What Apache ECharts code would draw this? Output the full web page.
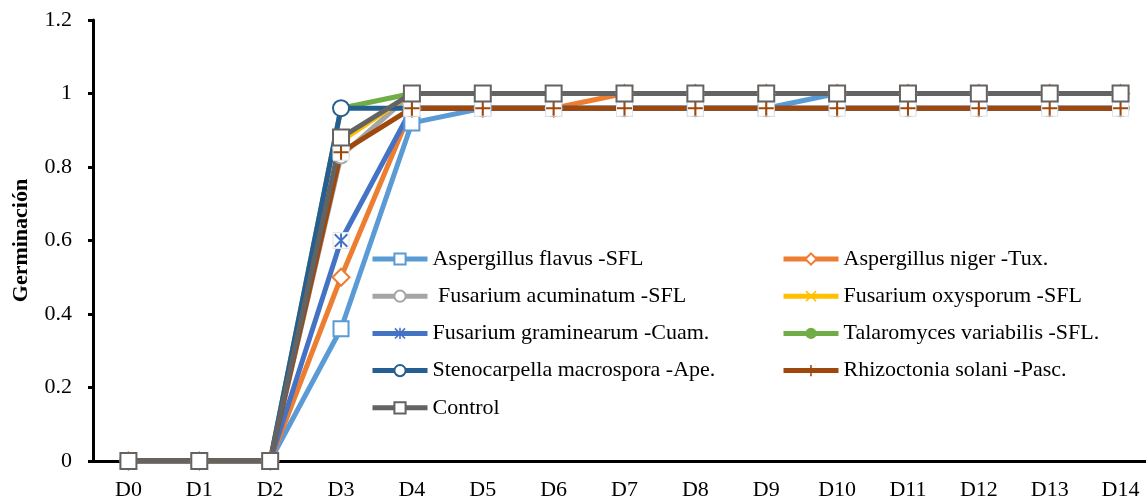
<!DOCTYPE html>
<html>
<head>
<meta charset="utf-8">
<script src="https://cdn.jsdelivr.net/npm/echarts@6/dist/echarts.min.js"></script>
<style>html,body{margin:0;padding:0;background:#fff;}#c{width:1146px;height:502px;}</style>
</head>
<body>
<div id="c"></div>
<script>
const categories = ['D0','D1','D2','D3','D4','D5','D6','D7','D8','D9','D10','D11','D12','D13','D14'];
const aspergillusFlavus   = [0,0,0,0.36,0.92,0.96,0.96,0.96,0.96,0.96,1,1,1,1,1];
const aspergillusNiger    = [0,0,0,0.50,0.96,0.96,0.96,1,1,1,1,1,1,1,1];
const fusariumAcuminatum  = [0,0,0,0.83,1,1,1,1,1,1,1,1,1,1,1];
const fusariumOxysporum   = [0,0,0,0.87,1,1,1,1,1,1,1,1,1,1,1];
const fusariumGraminearum = [0,0,0,0.60,0.96,0.96,0.96,0.96,0.96,0.96,0.96,0.96,0.96,0.96,0.96];
const talaromyces         = [0,0,0,0.96,1,1,1,1,1,1,1,1,1,1,1];
const stenocarpella       = [0,0,0,0.96,0.96,0.96,0.96,0.96,0.96,0.96,0.96,0.96,0.96,0.96,0.96];
const rhizoctonia         = [0,0,0,0.84,0.96,0.96,0.96,0.96,0.96,0.96,0.96,0.96,0.96,0.96,0.96];
const control             = [0,0,0,0.88,1,1,1,1,1,1,1,1,1,1,1];
const yTicks = [0,0.2,0.4,0.6,0.8,1,1.2];

const PLUS = 'path://M0,4.3H10V5.7H0Z M4.3,0H5.7V10H4.3Z';
const CROSS = 'path://M0,1L1,0L10,9L9,10Z M9,0L10,1L1,10L0,9Z';
const STAR = 'path://M0,1L1,0L10,9L9,10Z M9,0L10,1L1,10L0,9Z M4.3,0H5.7V10H4.3Z';

const font = '"Liberation Serif","Times New Roman",serif';

function mk(name, data, color, symbol, size, filled) {
  return {
    name: name, type: 'line', data: data,
    symbol: symbol, symbolSize: size, showAllSymbol: true,
    lineStyle: {color: color, width: 5},
    itemStyle: filled ? {color: color, borderWidth: 0} : {color: color, borderColor: color, borderWidth: 2},
    emphasis: {disabled: true},
    animation: false
  };
}
// white square box drawn behind glyph markers (x, *, +), as in the original
function box(name, data) {
  return {
    name: name + ' box', type: 'line', data: data,
    symbol: 'rect', symbolSize: 16, showAllSymbol: true,
    lineStyle: {width: 0, opacity: 0},
    itemStyle: {color: '#fff', borderColor: '#e4e4e4', borderWidth: 1},
    emphasis: {disabled: true}, silent: true, animation: false
  };
}

const series = [
  mk('Aspergillus flavus -SFL', aspergillusFlavus, '#5B9BD5', 'emptyRect', 15, false),
  mk('Aspergillus niger -Tux.', aspergillusNiger, '#ED7D31', 'emptyDiamond', 17, false),
  mk(' Fusarium acuminatum -SFL', fusariumAcuminatum, '#A5A5A5', 'emptyCircle', 15, false),
  box('Fusarium oxysporum -SFL', fusariumOxysporum),
  mk('Fusarium oxysporum -SFL', fusariumOxysporum, '#FFC000', CROSS, 13, true),
  box('Fusarium graminearum -Cuam.', fusariumGraminearum),
  mk('Fusarium graminearum -Cuam.', fusariumGraminearum, '#4472C4', STAR, 14, true),
  mk('Talaromyces variabilis -SFL.', talaromyces, '#70AD47', 'circle', 15, true),
  mk('Stenocarpella macrospora -Ape.', stenocarpella, '#255E91', 'emptyCircle', 16, false),
  box('Rhizoctonia solani -Pasc.', rhizoctonia),
  mk('Rhizoctonia solani -Pasc.', rhizoctonia, '#9E480E', PLUS, 15, true),
  mk('Control', control, '#636363', 'emptyRect', 16, false)
];

const legendCommon = {
  orient: 'vertical', itemWidth: 55, itemHeight: 14, itemGap: 15.2, padding: 0,
  textStyle: {fontFamily: font, fontSize: 22, color: '#000', lineHeight: 22},
  lineStyle: {width: 5},
  selectedMode: false, top: 248
};

const chart = echarts.init(document.getElementById('c'), null, {renderer: 'canvas'});
chart.setOption({
  animation: false,
  backgroundColor: '#fff',
  grid: {left: 93, top: 20, bottom: 41, right: -10, containLabel: false, outerBoundsMode: 'none'},
  legend: [
    Object.assign({}, legendCommon, {left: 370, data: ['Aspergillus flavus -SFL',' Fusarium acuminatum -SFL','Fusarium graminearum -Cuam.','Stenocarpella macrospora -Ape.','Control']}),
    Object.assign({}, legendCommon, {left: 781, data: ['Aspergillus niger -Tux.','Fusarium oxysporum -SFL','Talaromyces variabilis -SFL.','Rhizoctonia solani -Pasc.']})
  ],
  xAxis: {
    type: 'category', data: categories, boundaryGap: true,
    axisLine: {lineStyle: {color: '#000', width: 3}},
    axisTick: {show: false},
    axisLabel: {fontFamily: font, fontSize: 22, color: '#000', margin: 18}
  },
  yAxis: {
    type: 'value', min: yTicks[0], max: yTicks[yTicks.length-1], interval: 0.2,
    name: 'Germinación', nameLocation: 'middle', nameGap: 61,
    nameTextStyle: {fontFamily: font, fontSize: 22, fontWeight: 'bold', color: '#000'},
    axisLine: {show: true, lineStyle: {color: '#000', width: 3}},
    axisTick: {show: true, length: 5, lineStyle: {color: '#000', width: 3}},
    splitLine: {show: false},
    axisLabel: {fontFamily: font, fontSize: 22, color: '#000', margin: 21}
  },
  series: series
});
</script>
</body>
</html>
